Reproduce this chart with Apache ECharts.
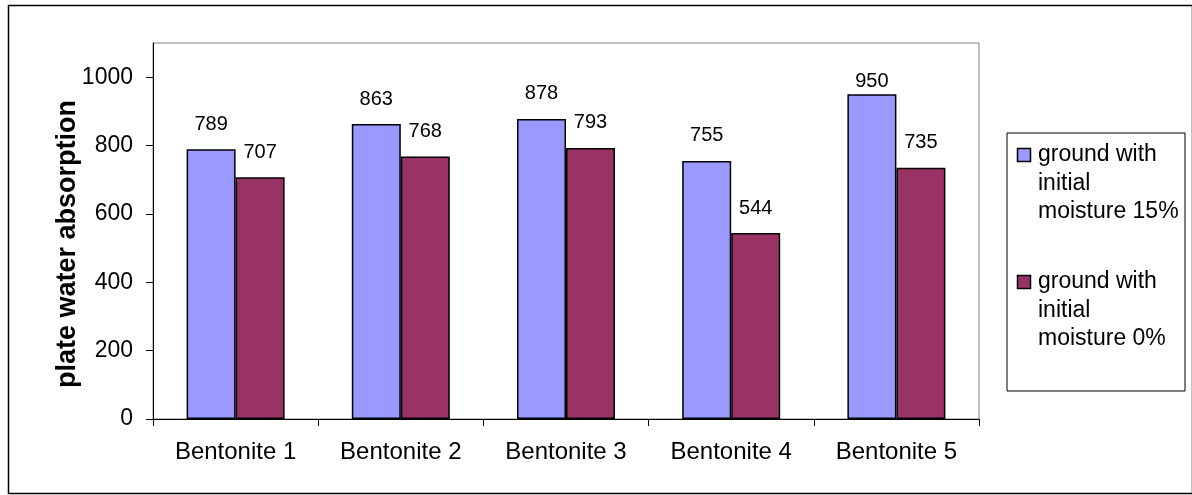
<!DOCTYPE html>
<html>
<head>
<meta charset="utf-8">
<script src="https://cdn.jsdelivr.net/npm/echarts@6/dist/echarts.min.js"></script>
<style>
  html, body { margin: 0; padding: 0; background: #fff; }
  #chart { width: 1192px; height: 495px; }
</style>
</head>
<body>
<div id="chart"></div>
<script>
// Plate water absorption per bentonite sample
const categories = ['Bentonite 1', 'Bentonite 2', 'Bentonite 3', 'Bentonite 4', 'Bentonite 5'];
const seriesNames = ['ground with\ninitial\nmoisture 15%', 'ground with\ninitial\nmoisture 0%'];
const moisture15 = [789, 863, 878, 755, 950];
const moisture0 = [707, 768, 793, 544, 735];
const yTicks = [0, 200, 400, 600, 800, 1000];
const yMax = 1100;
const colors = ['#9999FF', '#993366'];

const FONT = '"Liberation Sans", Arial, sans-serif';

function barData(values, tallestDistance) {
  // the tallest bar keeps its value label tucked closer to the bar top
  const maxIdx = values.indexOf(Math.max(...values));
  return values.map((v, i) =>
    (tallestDistance != null && i === maxIdx) ? { value: v, label: { distance: tallestDistance } } : v);
}

// Boxed legend with the swatch beside the first line of each wrapped entry
function legendGraphics() {
  const box = { x: 1007, y: 133, w: 178, h: 258 };
  const lineH = 28.5;
  const firstLineCenters = [155, 282];
  const els = [{
    type: 'rect', silent: true,
    shape: { x: box.x, y: box.y, width: box.w, height: box.h },
    style: { fill: '#fff', stroke: '#000', lineWidth: 1 }
  }];
  seriesNames.forEach((name, i) => {
    const cy = firstLineCenters[i];
    els.push({
      type: 'rect', silent: true,
      shape: { x: box.x + 10.5, y: cy - 6.5, width: 13, height: 13 },
      style: { fill: colors[i], stroke: '#000', lineWidth: 1.5 }
    });
    els.push({
      type: 'text', silent: true,
      x: box.x + 31, y: cy - lineH / 2,
      style: {
        text: name, fill: '#000', font: '23px ' + FONT,
        lineHeight: lineH, verticalAlign: 'top', align: 'left'
      }
    });
  });
  return els;
}

const chart = echarts.init(document.getElementById('chart'), null, { renderer: 'canvas' });

chart.setOption({
  animation: false,
  backgroundColor: '#ffffff',
  textStyle: { fontFamily: FONT },
  color: colors,
  grid: {
    left: 153, top: 43, right: 213, bottom: 76,
    show: true, borderColor: '#808080', borderWidth: 1, backgroundColor: 'transparent'
  },
  xAxis: {
    type: 'category',
    data: categories,
    boundaryGap: true,
    axisLine: { lineStyle: { color: '#000', width: 1 } },
    axisTick: { show: true, length: 7, lineStyle: { color: '#000' } },
    axisLabel: { color: '#000', fontSize: 24, fontFamily: FONT, margin: 21 },
    splitLine: { show: false }
  },
  yAxis: {
    type: 'value',
    min: 0, max: yMax,
    name: 'plate water absorption',
    nameLocation: 'middle',
    nameGap: 72,
    nameMoveOverlap: false,
    nameRotate: 90,
    nameTextStyle: {
      fontFamily: FONT, fontSize: 27, fontWeight: 'bold', color: '#000',
      padding: [0, 26, 0, 0]
    },
    axisLine: { show: true, lineStyle: { color: '#000', width: 1 } },
    axisTick: { show: true, length: 7, lineStyle: { color: '#000' }, customValues: yTicks },
    axisLabel: {
      color: '#000', fontSize: 23, fontFamily: FONT, margin: 20, customValues: yTicks,
      formatter: v => String(v)
    },
    splitLine: { show: false }
  },
  series: [
    {
      name: seriesNames[0],
      type: 'bar',
      data: barData(moisture15, 3),
      barWidth: 49,
      barGap: '0%',
      itemStyle: { color: colors[0], borderColor: '#000', borderWidth: 1.5 },
      label: { show: true, position: 'top', distance: 15, color: '#000', fontSize: 20, fontFamily: FONT }
    },
    {
      name: seriesNames[1],
      type: 'bar',
      data: barData(moisture0),
      barWidth: 49,
      barGap: '0%',
      itemStyle: { color: colors[1], borderColor: '#000', borderWidth: 1.5 },
      label: { show: true, position: 'top', distance: 15, color: '#000', fontSize: 20, fontFamily: FONT }
    }
  ],
  graphic: [
    {
      type: 'rect',
      left: 6, top: 3,
      shape: { width: 1184, height: 488 },
      style: { fill: 'none', stroke: '#000', lineWidth: 1.5 },
      silent: true,
      z: -1
    },
    ...legendGraphics()
  ]
});
</script>
</body>
</html>
